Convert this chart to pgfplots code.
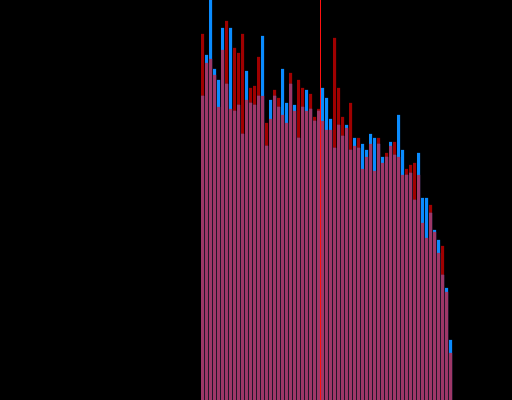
\documentclass[border=0pt]{standalone}
\usepackage{pgfplots}
\pgfplotsset{compat=1.18}
\usepackage{pgfplotstable}
\definecolor{barred}{HTML}{A00000}
\definecolor{barblue}{HTML}{0A8CFF}
\definecolor{barpink}{HTML}{9E3768}
\definecolor{linered}{HTML}{FF1010}
\pgfplotstableread{
i red blue both
0 366 304 304
1 337 345 337
2 341 410 341
3 325 331 325
4 293 320 293
5 350 372 350
6 379 316 316
7 291 372 291
8 352 289 289
9 347 295 295
10 366 266 266
11 300 329 300
12 312 297 297
13 314 295 295
14 343 304 304
15 304 364 304
16 277 254 254
17 281 300 281
18 310 304 304
19 302 293 293
20 285 331 285
21 277 297 277
22 327 316 316
23 289 295 289
24 320 262 262
25 312 293 293
26 289 310 289
27 306 291 291
28 283 279 279
29 291 289 289
30 279 312 279
31 270 302 270
32 270 281 270
33 362 252 252
34 312 275 275
35 283 264 264
36 272 275 272
37 297 250 250
38 254 262 254
39 262 252 252
40 231 256 231
41 243 250 243
42 256 266 256
43 229 262 229
44 262 256 256
45 237 243 237
46 247 243 243
47 254 258 254
48 258 245 245
49 243 285 243
50 225 250 225
51 231 225 225
52 235 227 227
53 237 200 200
54 225 247 225
55 177 202 177
56 162 202 162
57 195 187 187
58 168 170 168
59 147 160 147
60 154 125 125
61 108 112 108
62 47 60 47
}\bars
\begin{document}
\begin{tikzpicture}
\begin{axis}[
  width=512bp, height=400bp, scale only axis,
  xmin=-50.625, xmax=77.375, ymin=0, ymax=400,
  hide axis,
  axis background/.style={fill=black},
]
\addplot[ybar, bar width=0.75, bar shift=0, fill=barred, draw=none] table[x=i, y=red] {\bars};
\addplot[ybar, bar width=0.75, bar shift=0, fill=barblue, draw=none] table[x=i, y=blue] {\bars};
\addplot[ybar, bar width=0.75, bar shift=0, fill=barpink, draw=none] table[x=i, y=both] {\bars};
\addplot[linered, line width=1bp] coordinates {(29.5,0) (29.5,400)};
\end{axis}
\end{tikzpicture}
\end{document}
